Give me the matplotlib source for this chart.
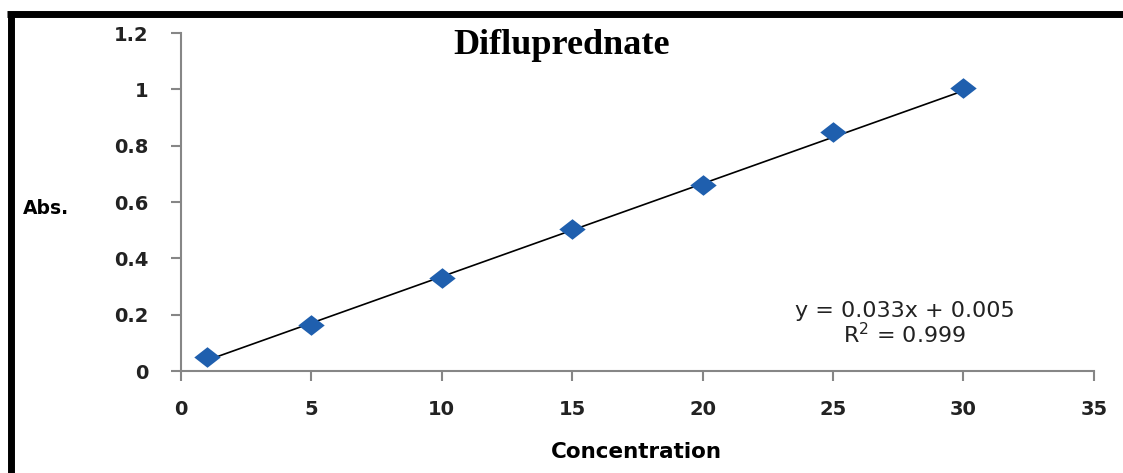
import numpy as np
import matplotlib.pyplot as plt
from matplotlib.path import Path
from matplotlib.lines import Line2D

# calibration data
conc = [1, 5, 10, 15, 20, 25, 30]
absorb = [0.05, 0.163, 0.33, 0.504, 0.66, 0.848, 1.005]
slope = 0.033
intercept = 0.005
r2 = 0.999
xticks = [0, 5, 10, 15, 20, 25, 30, 35]
yticks = [0, 0.2, 0.4, 0.6, 0.8, 1, 1.2]
ytick_labels = ['0', '0.2', '0.4', '0.6', '0.8', '1', '1.2']

fig = plt.figure(figsize=(11.23, 4.73), dpi=100)
ax = fig.add_axes([0.161, 0.2156, 0.813, 0.7146])

# wide diamond marker
diamond = Path([(-1, 0), (0, 0.78), (1, 0), (0, -0.78), (-1, 0)],
               [Path.MOVETO, Path.LINETO, Path.LINETO, Path.LINETO, Path.CLOSEPOLY])

# linear trendline from the equation
xl = np.array([conc[0], conc[-1]])
ax.plot(xl, slope * xl + intercept, color='black', linewidth=1.2, zorder=2)
ax.plot(conc, absorb, linestyle='none', marker=diamond, markersize=19,
        color='#1f5fae', markeredgewidth=0, zorder=3)

ax.set_xlim(0, 35)
ax.set_ylim(0, 1.2)
ax.set_xticks(xticks)
ax.set_yticks(yticks)
ax.set_xticklabels([str(t) for t in xticks])
ax.set_yticklabels(ytick_labels)

for s in ['top', 'right']:
    ax.spines[s].set_visible(False)
for s in ['left', 'bottom']:
    ax.spines[s].set_color('#868686')
    ax.spines[s].set_linewidth(1.5)
ax.tick_params(direction='out', length=7, width=1.5, color='#868686',
               labelsize=14, labelcolor='#222222')
for lab in ax.get_xticklabels() + ax.get_yticklabels():
    lab.set_fontweight('bold')
ax.tick_params(axis='x', pad=14)
ax.tick_params(axis='y', pad=16)

# labels and title
fig.text(0.041, 0.56, 'Abs.', fontsize=13.5, fontweight='bold', ha='center', va='center')
fig.text(0.567, 0.045, 'Concentration', fontsize=15.5, fontweight='bold', ha='center', va='center')
fig.text(0.500, 0.903, 'Difluprednate', fontsize=26, fontweight='bold',
         family='Liberation Serif', ha='center', va='center')

eq = f'y = {slope:.3f}x + {intercept:.3f}\nR$^2$ = {r2:.3f}'
ax.text(0.793, 0.139, eq, transform=ax.transAxes, fontsize=16, ha='center', va='center',
        linespacing=1.05, color='#222222')

# outer frame
fig.add_artist(Line2D([0.0094, 0.0094], [0, 0.9725], transform=fig.transFigure,
                      color='black', linewidth=5, solid_capstyle='butt'))
fig.add_artist(Line2D([0.0062, 1.0], [0.9714, 0.9714], transform=fig.transFigure,
                      color='black', linewidth=5, solid_capstyle='butt'))

fig.savefig('out.png', dpi=100)
plt.close(fig)
